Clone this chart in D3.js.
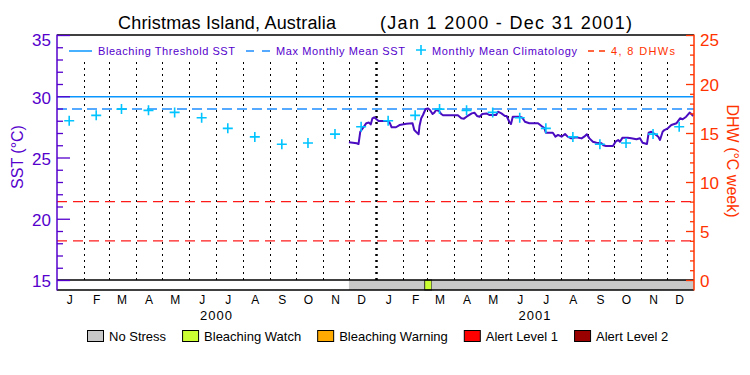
<!DOCTYPE html>
<html>
<head>
<meta charset="utf-8">
<script src="https://cdn.jsdelivr.net/npm/d3@7"></script>
<style>
  html, body { margin: 0; padding: 0; background: #fff; }
  svg { display: block; font-family: "Liberation Sans", Arial, sans-serif; }
</style>
</head>
<body>
<svg id="chart" width="750" height="375"></svg>
<script>
// ---------------- DATA ----------------
const monthLabels = ["J","F","M","A","M","J","J","A","S","O","N","D"];
const yearLabels = ["2000", "2001"];
const sstTicks = [15, 20, 25, 30, 35];
const dhwTicks = [0, 5, 10, 15, 20, 25];

// Monthly mean climatology (Jan..Dec), same both years
const climatology = [28.0, 28.44, 28.95, 28.85, 28.68, 28.24, 27.38, 26.68, 26.08, 26.18, 26.91, 27.51];
const maxMonthlyMean = 28.95;
const bleachingThreshold = 29.95;
const dhwLevels = [4, 8];

// Observed SST
const sstDates = [
  "2000-12-01","2000-12-10","2000-12-12","2000-12-14","2000-12-18","2000-12-21","2000-12-24","2000-12-26","2000-12-28","2000-12-30",
  "2001-01-02","2001-01-04","2001-01-15","2001-01-17","2001-01-19","2001-01-24","2001-01-28","2001-02-05","2001-02-12","2001-02-14",
  "2001-02-16","2001-02-19","2001-02-20","2001-02-22","2001-02-24","2001-02-27","2001-03-02","2001-03-04","2001-03-07","2001-03-09",
  "2001-03-11","2001-03-14","2001-03-17","2001-03-19","2001-04-05","2001-04-09","2001-04-12","2001-04-15","2001-04-21","2001-04-24",
  "2001-04-27","2001-04-30","2001-05-03","2001-05-08","2001-05-11","2001-05-19","2001-05-21","2001-05-25","2001-05-29","2001-05-31",
  "2001-06-03","2001-06-05","2001-06-07","2001-06-15","2001-06-18","2001-06-21","2001-06-26","2001-07-06","2001-07-10","2001-07-13",
  "2001-07-15","2001-07-23","2001-07-26","2001-07-29","2001-08-02","2001-08-06","2001-08-09","2001-08-13","2001-08-19","2001-08-25",
  "2001-08-28","2001-08-31","2001-09-03","2001-09-07","2001-09-11","2001-09-17","2001-09-19","2001-09-22","2001-09-30","2001-10-03",
  "2001-10-06","2001-10-08","2001-10-11","2001-10-17","2001-10-21","2001-10-27","2001-10-31","2001-11-03","2001-11-08","2001-11-10",
  "2001-11-13","2001-11-17","2001-11-21","2001-11-23","2001-11-26","2001-11-28","2001-12-02","2001-12-06","2001-12-12","2001-12-16",
  "2001-12-19","2001-12-23","2001-12-27","2001-12-29","2001-12-31"
];
const sstValues = [
  26.24,26.16,26.10,27.10,27.50,27.80,27.85,27.70,28.20,28.28,
  28.10,27.98,27.98,27.80,27.47,27.47,27.65,27.76,27.80,27.24,
  27.10,26.90,27.57,28.20,28.47,28.96,29.00,28.88,28.55,28.66,
  28.88,28.82,28.55,28.45,28.45,28.20,28.17,28.33,28.60,28.66,
  28.39,28.33,28.55,28.60,28.47,28.47,28.74,28.60,28.39,28.39,
  27.92,27.73,28.33,28.33,28.25,27.92,27.80,27.80,27.57,27.43,
  27.02,27.02,26.70,26.84,26.70,26.92,26.70,26.56,26.65,26.56,
  26.70,26.90,26.56,26.29,26.20,26.16,26.00,25.94,25.94,26.29,
  26.43,26.29,26.62,26.62,26.57,26.49,26.57,26.20,26.10,27.02,
  27.10,26.92,26.70,26.43,27.10,27.24,27.38,27.65,27.80,28.20,
  28.12,28.33,28.66,28.55,28.39
];

// Bleaching alert stress bar periods
const stressStarts = ["2000-12-01", "2001-02-26", "2001-03-06"];
const stressLevels = [0, 1, 0];
const stressEnd = "2002-01-01";
const stressNames = ["No Stress", "Bleaching Watch", "Bleaching Warning", "Alert Level 1", "Alert Level 2"];
const stressColors = ["#c8c8c8", "#ccff33", "#ffaa00", "#ff0000", "#990000"];

// ---------------- STYLE ----------------
const PURPLE = "#5500cc";
const ORANGE = "#ff3300";
const THRESH = "#0a96ff";
const MMMC = "#1e8fff";
const CYAN = "#00c4ff";
const LINEC = "#4a0cc0";
const DHWC = "#ff1a1a";

const parse = d3.utcParse("%Y-%m-%d");
const svg = d3.select("#chart");

const pLeft = 57, pRight = 694, pTop = 35, pBottom = 280, barBottom = 290;

const x = d3.scaleUtc().domain([parse("2000-01-01"), parse("2002-01-01")]).range([pLeft, pRight]);
const ySST = d3.scaleLinear().domain([15, 35]).range([pBottom, pTop]);
const yDHW = d3.scaleLinear().domain([0, 25]).range([pBottom, pTop]);

// ---------- Title ----------
svg.append("text").attr("x", 118).attr("y", 29).attr("font-size", 18).attr("fill", "#000")
  .attr("textLength", 218).text("Christmas Island, Australia");
svg.append("text").attr("x", 380).attr("y", 29).attr("font-size", 18).attr("fill", "#000")
  .attr("textLength", 252).text("(Jan 1 2000 - Dec 31 2001)");

// ---------- Dotted month grid ----------
const monthStarts = d3.utcMonth.range(parse("2000-02-01"), parse("2002-01-01"));
svg.append("g").selectAll("line").data(monthStarts).join("line")
  .attr("x1", d => Math.round(x(d)) + 0.5).attr("x2", d => Math.round(x(d)) + 0.5)
  .attr("y1", 62).attr("y2", pBottom)
  .attr("stroke", "#000")
  .attr("stroke-width", d => d.getUTCMonth() === 0 ? 2.5 : 1)
  .attr("stroke-dasharray", "2,4");

// ---------- Reference lines ----------
svg.append("line").attr("x1", pLeft).attr("x2", pRight)
  .attr("y1", ySST(bleachingThreshold)).attr("y2", ySST(bleachingThreshold))
  .attr("stroke", THRESH).attr("stroke-width", 1.5);
svg.append("line").attr("x1", pLeft).attr("x2", pRight)
  .attr("y1", ySST(maxMonthlyMean)).attr("y2", ySST(maxMonthlyMean))
  .attr("stroke", MMMC).attr("stroke-width", 1.5).attr("stroke-dasharray", "10,5");
svg.append("g").selectAll("line").data(dhwLevels).join("line")
  .attr("x1", pLeft).attr("x2", pRight)
  .attr("y1", d => yDHW(d)).attr("y2", d => yDHW(d))
  .attr("stroke", DHWC).attr("stroke-width", 1.3).attr("stroke-dasharray", "10,6");

// ---------- SST line ----------
const sst = sstDates.map((d, i) => ({ date: parse(d), v: sstValues[i] }));
svg.append("path").datum(sst)
  .attr("fill", "none").attr("stroke", LINEC).attr("stroke-width", 2)
  .attr("stroke-linejoin", "round")
  .attr("d", d3.line().x(d => x(d.date)).y(d => ySST(d.v)));

// ---------- Climatology pluses ----------
const climPts = [];
yearLabels.forEach(yr => climatology.forEach((v, m) => {
  climPts.push({ date: new Date(Date.UTC(+yr, m, 15)), v });
}));
svg.append("g").selectAll("path").data(climPts).join("path")
  .attr("transform", d => `translate(${x(d.date)},${ySST(d.v)})`)
  .attr("d", "M-5,0H5M0,-5V5")
  .attr("stroke", CYAN).attr("stroke-width", 1.6).attr("fill", "none");

// ---------- Stress bar ----------
const stressSegs = stressStarts.map((s, i) => ({
  start: parse(s), end: parse(i < stressStarts.length - 1 ? stressStarts[i + 1] : stressEnd), level: stressLevels[i]
}));
svg.append("g").selectAll("rect").data(stressSegs).join("rect")
  .attr("x", d => x(d.start)).attr("width", d => x(d.end) - x(d.start))
  .attr("y", pBottom).attr("height", barBottom - pBottom)
  .attr("fill", d => stressColors[d.level])
  .attr("stroke", d => d.level > 0 ? "#000" : "none").attr("stroke-width", 0.8);
svg.append("line").attr("x1", pLeft).attr("x2", pRight).attr("y1", pBottom).attr("y2", pBottom)
  .attr("stroke", "#000").attr("stroke-width", 1.5);
svg.append("line").attr("x1", pLeft).attr("x2", pRight).attr("y1", barBottom).attr("y2", barBottom)
  .attr("stroke", "#000").attr("stroke-width", 1.5);
svg.append("line").attr("x1", pLeft).attr("x2", pRight).attr("y1", pTop).attr("y2", pTop)
  .attr("stroke", "#000").attr("stroke-width", 1.5);

// ---------- Left axis (SST) ----------
const sstMinor = d3.range(15, 36).filter(v => !sstTicks.includes(v));
svg.append("g").attr("transform", `translate(${pLeft},0)`).attr("color", PURPLE)
  .call(d3.axisLeft(ySST).tickValues(sstMinor).tickSize(-6).tickFormat(() => ""))
  .call(g => g.select(".domain").remove())
  .call(g => g.selectAll("line").attr("stroke-width", 1.3));
svg.append("g").attr("transform", `translate(${pLeft},0)`).attr("color", PURPLE)
  .call(d3.axisLeft(ySST).tickValues(sstTicks).tickSize(-13).tickPadding(6))
  .call(g => g.select(".domain").remove())
  .call(g => g.selectAll("line").attr("stroke-width", 1.3))
  .call(g => g.selectAll("text").attr("font-size", 17).attr("font-family", null)
    .attr("y", d => d === 35 ? 5 : 1.5));
svg.append("line").attr("x1", pLeft).attr("x2", pLeft).attr("y1", pTop - 0.5).attr("y2", barBottom + 0.5)
  .attr("stroke", PURPLE).attr("stroke-width", 1.5);

// ---------- Right axis (DHW) ----------
const dhwMinor = d3.range(0, 26).filter(v => !dhwTicks.includes(v));
svg.append("g").attr("transform", `translate(${pRight},0)`).attr("color", ORANGE)
  .call(d3.axisRight(yDHW).tickValues(dhwMinor).tickSize(-4).tickFormat(() => ""))
  .call(g => g.select(".domain").remove())
  .call(g => g.selectAll("line").attr("stroke-width", 1.3));
svg.append("g").attr("transform", `translate(${pRight},0)`).attr("color", ORANGE)
  .call(d3.axisRight(yDHW).tickValues(dhwTicks).tickSize(-8).tickPadding(6))
  .call(g => g.select(".domain").remove())
  .call(g => g.selectAll("line").attr("stroke-width", 1.3))
  .call(g => g.selectAll("text").attr("font-size", 17).attr("font-family", null)
    .attr("y", d => d === 25 ? 5 : 1.5));
svg.append("line").attr("x1", pRight).attr("x2", pRight).attr("y1", pTop - 0.5).attr("y2", barBottom + 0.5)
  .attr("stroke", ORANGE).attr("stroke-width", 1.5);

// ---------- Axis titles ----------
svg.append("text").attr("transform", "translate(23,157) rotate(-90)")
  .attr("text-anchor", "middle").attr("font-size", 16).attr("fill", PURPLE).text("SST (°C)");
svg.append("text").attr("transform", "translate(727,161) rotate(90)")
  .attr("text-anchor", "middle").attr("font-size", 16).attr("fill", ORANGE).text("DHW (°C week)");

// ---------- Month axis ----------
const midMonths = d3.utcMonth.range(parse("2000-01-01"), parse("2002-01-01")).map(d => d3.utcDay.offset(d, 14));
svg.append("g").attr("transform", `translate(0,${barBottom})`).attr("color", "#000")
  .call(d3.axisBottom(x).tickValues(midMonths).tickSize(0).tickPadding(5)
    .tickFormat((d, i) => monthLabels[i % 12]))
  .call(g => g.select(".domain").remove())
  .call(g => g.selectAll("text").attr("font-size", 12).attr("font-family", null));

// Year labels
svg.append("g").selectAll("text").data(yearLabels).join("text")
  .attr("x", d => (x(parse(d + "-01-01")) + x(parse((+d + 1) + "-01-01"))) / 2)
  .attr("y", 320).attr("text-anchor", "middle").attr("font-size", 13)
  .attr("letter-spacing", 1).attr("fill", "#000").text(d => d);

// ---------- Top legend ----------
const tl = svg.append("g").attr("font-size", 11);
tl.append("line").attr("x1", 69).attr("x2", 92).attr("y1", 51).attr("y2", 51).attr("stroke", THRESH).attr("stroke-width", 1.5);
tl.append("text").attr("x", 98).attr("y", 55).attr("fill", PURPLE).attr("textLength", 137).text("Bleaching Threshold SST");
tl.append("line").attr("x1", 246).attr("x2", 270).attr("y1", 51).attr("y2", 51).attr("stroke", MMMC).attr("stroke-width", 1.5).attr("stroke-dasharray", "8,8");
tl.append("text").attr("x", 276).attr("y", 55).attr("fill", PURPLE).attr("textLength", 129).text("Max Monthly Mean SST");
tl.append("path").attr("transform", "translate(421,50)").attr("d", "M-5,0H5M0,-5V5").attr("stroke", CYAN).attr("stroke-width", 1.6);
tl.append("text").attr("x", 432).attr("y", 55).attr("fill", PURPLE).attr("textLength", 145).text("Monthly Mean Climatology");
tl.append("line").attr("x1", 588).attr("x2", 605).attr("y1", 51).attr("y2", 51).attr("stroke", ORANGE).attr("stroke-width", 1.5).attr("stroke-dasharray", "6,5");
tl.append("text").attr("x", 611).attr("y", 55).attr("fill", ORANGE).attr("textLength", 64).text("4, 8 DHWs");

// ---------- Bottom legend ----------
const bl = svg.append("g");
let cx = 87;
stressNames.forEach((name, i) => {
  bl.append("rect").attr("x", cx + 0.5).attr("y", 330.5).attr("width", 16).attr("height", 11)
    .attr("fill", stressColors[i]).attr("stroke", "#000").attr("stroke-width", 1);
  const t = bl.append("text").attr("x", cx + 22).attr("y", 340.5).attr("font-size", 13).attr("fill", "#000").text(name);
  cx = cx + 22 + t.node().getComputedTextLength() + 16;
});
</script>
</body>
</html>
